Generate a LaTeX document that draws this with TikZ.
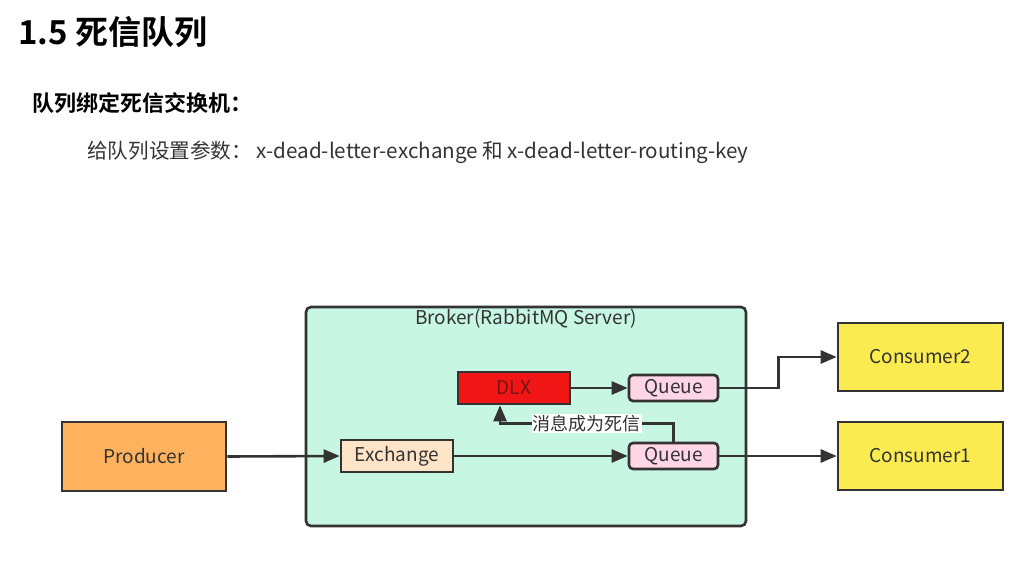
\documentclass[tikz,border=0pt]{standalone}
\usepackage{fontspec}
\setmainfont{Noto Sans CJK SC}[BoldFont={Noto Sans CJK SC Bold}]
\usetikzlibrary{arrows.meta}
\definecolor{edgegray}{RGB}{51,51,51}
\definecolor{brokerbg}{RGB}{199,246,227}
\definecolor{producerbg}{RGB}{255,178,94}
\definecolor{exchangebg}{RGB}{255,228,200}
\definecolor{dlxbg}{RGB}{240,22,22}
\definecolor{dlxtext}{RGB}{120,20,20}
\definecolor{queuebg}{RGB}{255,214,230}
\definecolor{consumerbg}{RGB}{250,236,80}
\tikzset{
  box/.style={draw=edgegray,line width=2.6pt,text=edgegray,inner sep=0pt,
    font=\fontsize{19}{22}\selectfont},
  queuebox/.style={box,fill=queuebg,rounded corners=4pt,minimum width=89pt,minimum height=26pt},
  flow/.style={draw=edgegray,line width=2.6pt,->},
  >={Triangle[length=16pt,width=13pt]}
}
\begin{document}
\begin{tikzpicture}[x=1pt,y=-1pt]
\useasboundingbox (0,0) rectangle (1015,562);
% headings
\node (title) at (18,32) [anchor=west,inner sep=0pt,font=\bfseries\fontsize{33}{38}\selectfont] {1.5 死信队列};
\node (subtitle) at (32,103) [anchor=west,inner sep=0pt,font=\bfseries\fontsize{22}{26}\selectfont] {队列绑定死信交换机：};
\node (params) at (87,152) [anchor=west,inner sep=0pt,text=edgegray,font=\fontsize{20.6}{24}\selectfont] {给队列设置参数：\ x-dead-letter-exchange 和 x-dead-letter-routing-key};

% broker
\filldraw[draw=edgegray,fill=brokerbg,line width=2.6pt,rounded corners=5pt] (306,307) rectangle (746,526);
\node (broker) at (526,319) [text=edgegray,inner sep=0pt,font=\fontsize{19}{22}\selectfont] {Broker(RabbitMQ Server)};

\node[box,fill=producerbg,minimum width=164pt,minimum height=69pt] (producer) at (144,456.5) {Producer};
\node[box,fill=exchangebg,minimum width=112pt,minimum height=32pt] (exchange) at (397,456) {Exchange};
\node[box,fill=dlxbg,text=dlxtext,minimum width=112pt,minimum height=32pt] (dlx) at (514,388) {DLX};
\node[queuebox] (queueA) at (673.5,388) {Queue};
\node[queuebox] (queueB) at (673.5,456) {Queue};
\node[box,fill=consumerbg,minimum width=165pt,minimum height=68pt] (consumerTwo) at (920.5,357) {Consumer2};
\node[box,fill=consumerbg,minimum width=165pt,minimum height=68pt] (consumerOne) at (920.5,456) {Consumer1};

\draw[flow] (producer.east) -- (exchange.west);
\draw[flow] (exchange.east) -- (queueB.west);
\draw[flow] (dlx.east) -- (queueA.west);
\draw[flow] (queueA.east) -- ++(59,0) |- (consumerTwo.west);
\draw[flow] (queueB.east) -- (consumerOne.west);
\draw[flow] (queueB.north) -- ++(0,-18) -| ([xshift=-14pt]dlx.south)
  node[pos=0.25,fill=white,inner sep=1pt,text=edgegray,font=\fontsize{18}{20}\selectfont] (deadmsg) {消息成为死信};
\end{tikzpicture}
\end{document}
